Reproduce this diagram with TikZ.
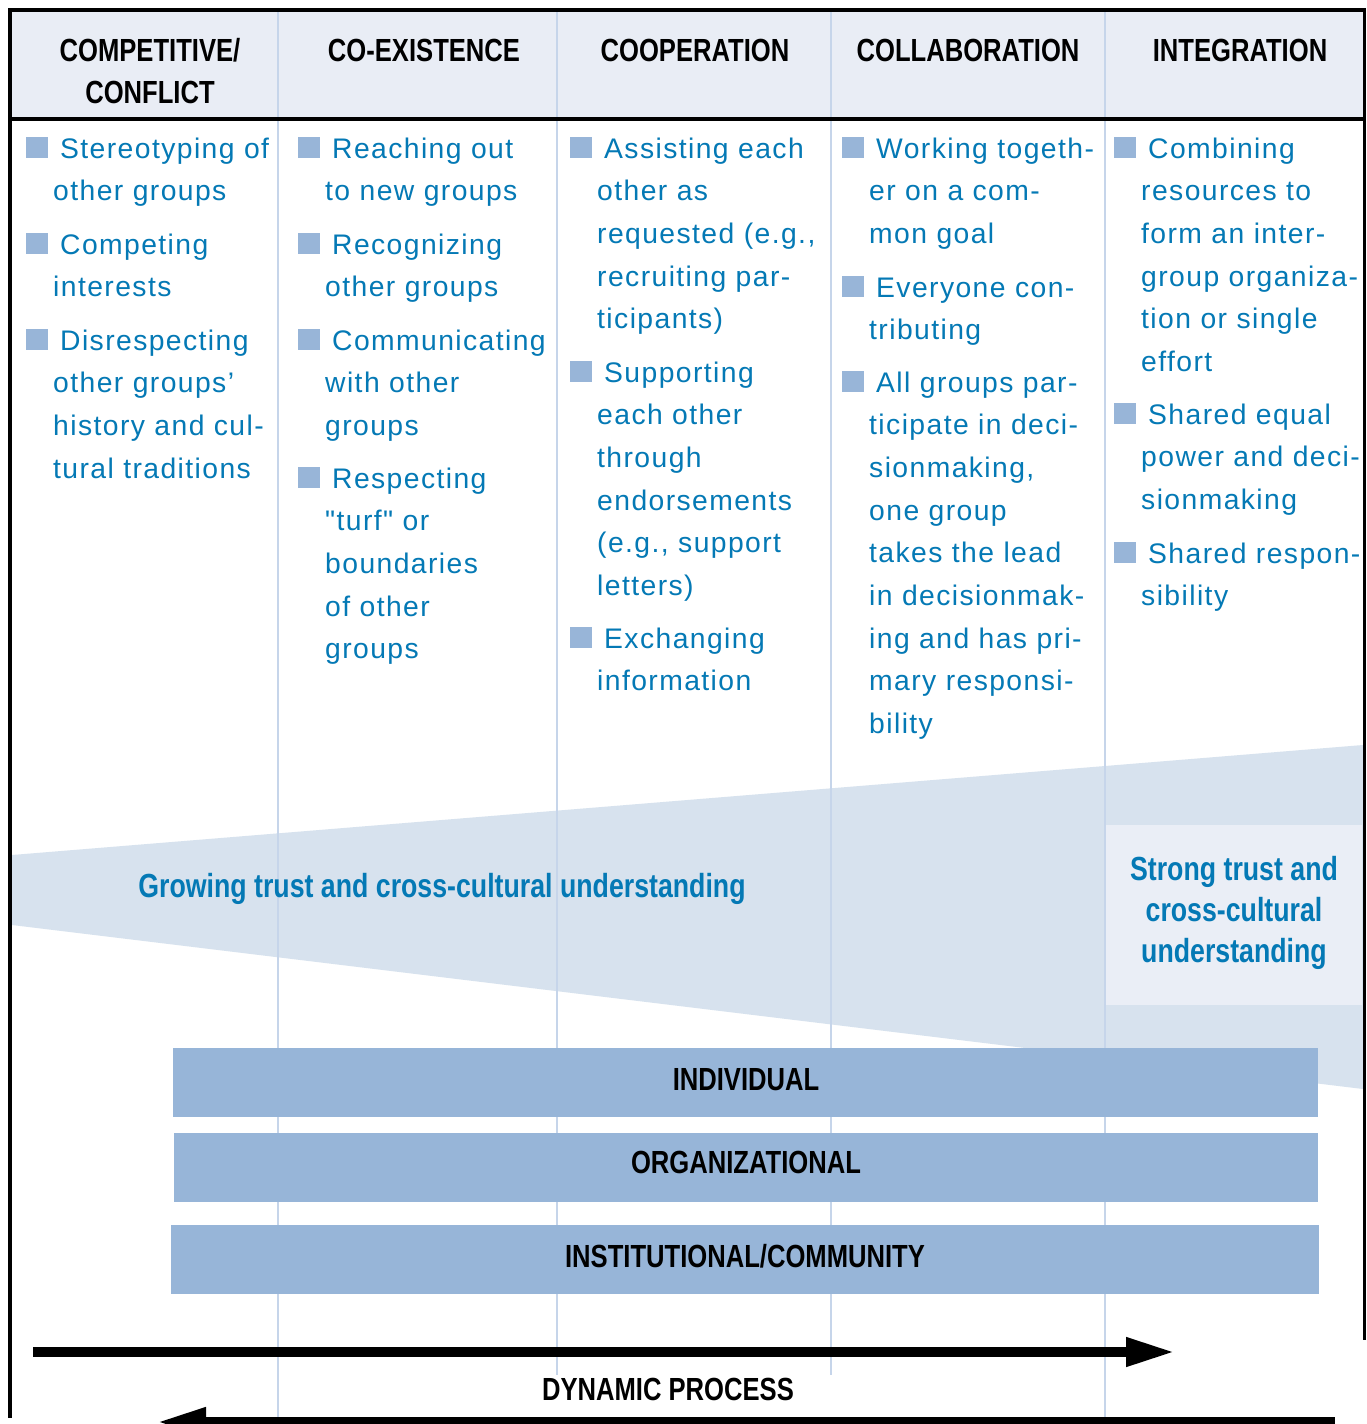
\documentclass[tikz,border=0pt]{standalone}
\usepackage{fontspec}
\setmainfont{Liberation Sans}
\newfontfamily\condfont[FakeStretch=0.8]{Liberation Sans}
\newfontfamily\bodyfont[LetterSpace=5]{Liberation Sans}
\usetikzlibrary{arrows.meta}

\definecolor{headfill}{HTML}{E9EDF5}
\definecolor{wedgefill}{HTML}{D7E2EE}
\definecolor{strongfill}{HTML}{EAEEF6}
\definecolor{barfill}{HTML}{97B5D8}
\definecolor{bulletblue}{HTML}{98B5D8}
\definecolor{divline}{HTML}{C6D5EA}
\definecolor{txtblue}{HTML}{0479B5}

% one bulleted entry: square bullet plus hanging-indented text
\newcommand\bulletitem[4]{%
  \fill[bulletblue] (#2,#3-21) rectangle (#2+22,#3);
  \node[item] (#1) at (#2+27,#3) {\hspace*{7pt}#4};
}

\begin{document}
\begin{tikzpicture}[x=1pt,y=-1pt,
  item/.style={anchor=base west, inner sep=0pt, text width=300pt, align=left,
    font=\bodyfont\fontsize{28.3}{42.7}\selectfont, text=txtblue},
  head/.style={anchor=base, inner sep=0pt,
    font=\condfont\bfseries\fontsize{32}{38}\selectfont, text=black},
  bandtext/.style={anchor=base, inner sep=0pt,
    font=\condfont\bfseries\fontsize{33.4}{41}\selectfont, text=txtblue},
  divider/.style={draw=divline, line width=2.5pt},
  frame/.style={draw=black, line width=4.5pt},
  bigarrow/.style={line width=10pt, -{Triangle[length=49pt,width=27pt]}}]

\useasboundingbox (0,0) rectangle (1366,1424);
\fill[white] (0,0) rectangle (1366,1424);

% header band
\fill[headfill] (10,10) rectangle (1364,119);

% trust wedge and the strong-trust panel
\fill[wedgefill] (12,855) -- (1363,745) -- (1363,1089) -- (12,925) -- cycle;
\fill[strongfill] (1106,825) rectangle (1362,1005);

% column dividers
\draw[divider] (278,12) -- (278,1418);
\draw[divider] (557,12) -- (557,1375);
\draw[divider] (831,12) -- (831,1375);
\draw[divider] (1105,12) -- (1105,1418);

% level bars
\fill[barfill] (173,1048) rectangle (1318,1117);
\fill[barfill] (174,1133) rectangle (1318,1202);
\fill[barfill] (171,1225) rectangle (1319,1294);

% frame
\draw[frame, line width=4pt] (8,10.3) -- (1366,10.3);
\draw[frame] (10,8) -- (10,1418);
\draw[frame, line width=3pt] (1364.5,8) -- (1364.5,1340);
\draw[frame] (10,119) -- (1366,119);

% column headings
\node[head] (h1a) at (150,61) {COMPETITIVE/};
\node[head] (h1b) at (150,103) {CONFLICT};
\node[head] (h2) at (424,61) {CO-EXISTENCE};
\node[head] (h3) at (695,61) {COOPERATION};
\node[head] (h4) at (968,61) {COLLABORATION};
\node[head] (h5) at (1240,61) {INTEGRATION};

% column 1
\bulletitem{c1a}{26}{158}{Stereotyping of\\other groups}
\bulletitem{c1b}{26}{254}{Competing\\interests}
\bulletitem{c1c}{26}{350}{Disrespecting\\other groups’\\history and cul-\\tural traditions}
% column 2
\bulletitem{c2a}{298}{158}{Reaching out\\to new groups}
\bulletitem{c2b}{298}{254}{Recognizing\\other groups}
\bulletitem{c2c}{298}{350}{Communicating\\with other\\groups}
\bulletitem{c2d}{298}{488}{Respecting\\"turf" or\\boundaries\\of other\\groups}
% column 3
\bulletitem{c3a}{570}{158}{Assisting each\\other as\\requested (e.g.,\\recruiting par-\\ticipants)}
\bulletitem{c3b}{570}{382}{Supporting\\each other\\through\\endorsements\\(e.g., support\\letters)}
\bulletitem{c3c}{570}{648}{Exchanging\\information}
% column 4
\bulletitem{c4a}{842}{158}{Working togeth-\\er on a com-\\mon goal}
\bulletitem{c4b}{842}{297}{Everyone con-\\tributing}
\bulletitem{c4c}{842}{392}{All groups par-\\ticipate in deci-\\sionmaking,\\one group\\takes the lead\\in decisionmak-\\ing and has pri-\\mary responsi-\\bility}
% column 5
\bulletitem{c5a}{1114}{158}{Combining\\resources to\\form an inter-\\group organiza-\\tion or single\\effort}
\bulletitem{c5b}{1114}{424}{Shared equal\\power and deci-\\sionmaking}
\bulletitem{c5c}{1114}{563}{Shared respon-\\sibility}

% trust labels
\node[bandtext] (grow) at (442,897) {Growing trust and cross-cultural understanding};
\node[bandtext] (strong1) at (1234,880) {Strong trust and};
\node[bandtext] (strong2) at (1234,921) {cross-cultural};
\node[bandtext] (strong3) at (1234,962) {understanding};

% level labels
\node[head] (lvind) at (746,1090) {INDIVIDUAL};
\node[head] (lvorg) at (746,1173) {ORGANIZATIONAL};
\node[head] (lvinst) at (745,1267) {INSTITUTIONAL/COMMUNITY};

% process arrows
\coordinate (fwdS) at (33,1352);
\coordinate (fwdE) at (1175,1352);
\draw[bigarrow] (fwdS) -- (fwdE);
\node[head] (dyn) at (668,1400) {DYNAMIC PROCESS};
\coordinate (backS) at (1335,1422);
\coordinate (backE) at (157,1422);
\draw[bigarrow] (backS) -- (backE);

\end{tikzpicture}
\end{document}
